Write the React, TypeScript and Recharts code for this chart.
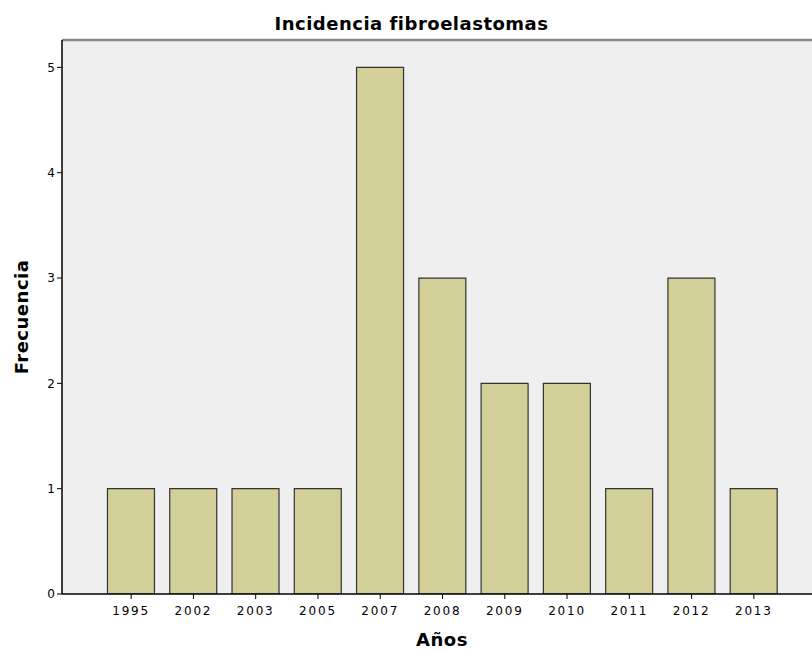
import React from 'react'
import { Bar, BarChart, CartesianGrid, Label, ReferenceLine, XAxis, YAxis } from 'recharts';

const years = ['1995', '2002', '2003', '2005', '2007', '2008', '2009', '2010', '2011', '2012', '2013'];
const counts = [1, 1, 1, 1, 5, 3, 2, 2, 1, 3, 1];
const yTicks = [0, 1, 2, 3, 4, 5];

const font = '"DejaVu Sans", sans-serif';

export default function App() {
    const data = years.map((y, i) => ({ year: y, count: counts[i] }));
    return (
    <div style={{ position: 'absolute', left: 0, top: 0, width: 812, height: 652, overflow: 'hidden', background: '#fff', fontFamily: font }}>
        <div style={{ position: 'absolute', top: 13, left: 0, width: 823, textAlign: 'center', fontWeight: 'bold', fontSize: 18, letterSpacing: 0.5, color: '#000' }}>
            Incidencia fibroelastomas
        </div>
        <BarChart width={812} height={652} data={data} barCategoryGap="12%"
            margin={{ top: 40, right: 0, left: 8, bottom: 28 }}>
            <CartesianGrid fill="#efefef" horizontal={false} vertical={false} />
            <XAxis dataKey="year" padding={{ left: 38, right: 27 }} height={30}
                tickSize={5} tickLine={{ stroke: '#000' }} axisLine={{ stroke: '#000', strokeWidth: 1.5 }}
                tick={{ fill: '#000', fontSize: 12, fontFamily: font, letterSpacing: 1.8, dy: 5 }}>
                <Label value="Años" position="insideBottom" offset={-22} dx={5}
                    style={{ fontWeight: 'bold', fontSize: 18, letterSpacing: 0.5, fill: '#000', fontFamily: font }} />
            </XAxis>
            <YAxis width={54} domain={[0, 5.26]} ticks={yTicks} allowDataOverflow
                tickSize={5} tickLine={{ stroke: '#000' }} axisLine={{ stroke: '#000', strokeWidth: 1.5 }}
                tick={{ fill: '#000', fontSize: 12, fontFamily: font }}>
                <Label value="Frecuencia" angle={-90} position="insideLeft" offset={14}
                    style={{ fontWeight: 'bold', fontSize: 18, letterSpacing: 0.5, fill: '#000', fontFamily: font, textAnchor: 'middle' }} />
            </YAxis>
            <ReferenceLine y={5.26} stroke="#888" strokeWidth={2.5} />
            <Bar dataKey="count" fill="#d3cf98" stroke="#333" strokeWidth={1.2} isAnimationActive={false} />
        </BarChart>
    </div>
    )
}
